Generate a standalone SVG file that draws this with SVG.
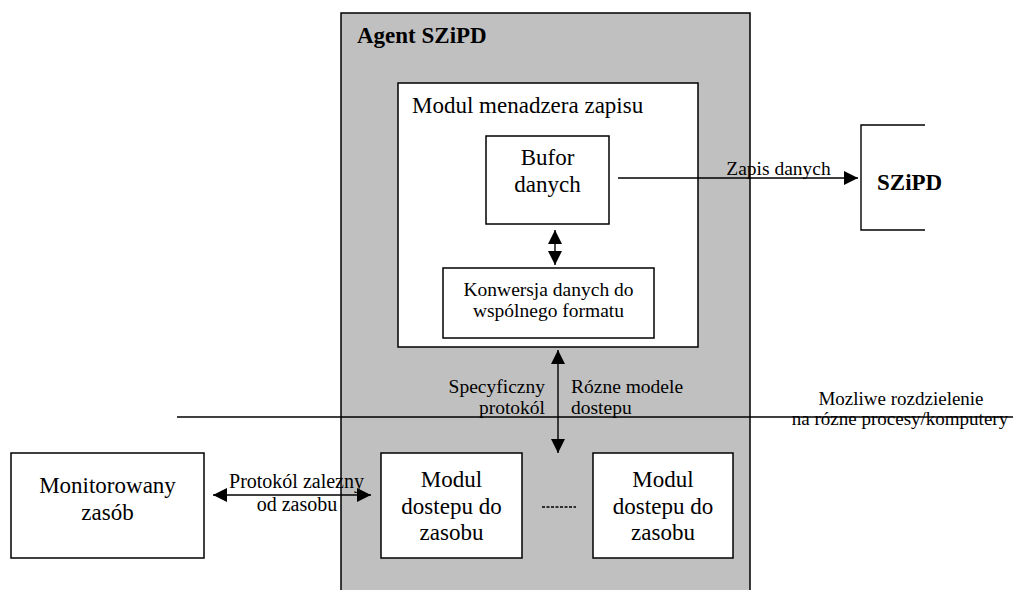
<svg xmlns="http://www.w3.org/2000/svg" width="1013" height="590" viewBox="0 0 1013 590">
  <style>
    .box { fill: #ffffff; stroke: #000000; stroke-width: 1.5; }
    .agent { fill: #c0c0c0; stroke: #000000; stroke-width: 1.5; }
    .line { fill: none; stroke: #000000; stroke-width: 1.4; }
    text { font-family: 'Liberation Serif', 'DejaVu Serif', 'Times New Roman', serif; fill: #000000; }
    .big { font-size: 23px; text-anchor: middle; }
    .mid { font-size: 19.5px; }
    .bold { font-weight: bold; }
  </style>
  <defs>
    <marker id="arrow" viewBox="0 0 14 14" refX="14" refY="7" markerWidth="14" markerHeight="14" markerUnits="userSpaceOnUse" orient="auto-start-reverse">
      <path d="M0,0 L14,7 L0,14 Z" fill="#000000"/>
    </marker>
  </defs>

  <!-- Agent container -->
  <g id="agent">
    <rect class="agent" x="341" y="13" width="409" height="600"/>
    <text class="bold" x="357" y="43" font-size="23">Agent SZiPD</text>
  </g>

  <!-- Write manager module -->
  <g id="modul-menadzera">
    <rect class="box" x="398" y="83" width="300" height="264"/>
    <text x="412" y="113" font-size="23">Modul menadzera zapisu</text>
  </g>

  <g id="bufor">
    <rect class="box" x="486" y="136" width="123" height="88"/>
    <text class="big" x="547.5" y="165">Bufor</text>
    <text class="big" x="547.5" y="192">danych</text>
  </g>

  <g id="konwersja">
    <rect class="box" x="443" y="268" width="211" height="70"/>
    <text class="mid" x="548.5" y="296" text-anchor="middle">Konwersja danych do</text>
    <text class="mid" x="548.5" y="317" text-anchor="middle">wspólnego formatu</text>
  </g>

  <!-- Storage system (open on the right) -->
  <g id="szipd">
    <path class="line" d="M925,125 H861 V230 H925" stroke-width="1.5"/>
    <text class="bold" x="877" y="190" font-size="23">SZiPD</text>
  </g>

  <g id="monitorowany">
    <rect class="box" x="11" y="453" width="193" height="105"/>
    <text class="big" x="107.5" y="493">Monitorowany</text>
    <text class="big" x="107.5" y="520">zasób</text>
  </g>

  <g id="modul-dostepu-1">
    <rect class="box" x="381" y="453" width="141" height="105"/>
    <text class="big" x="451.5" y="487">Modul</text>
    <text class="big" x="451.5" y="514">dostepu do</text>
    <text class="big" x="451.5" y="540">zasobu</text>
  </g>

  <g id="modul-dostepu-2">
    <rect class="box" x="593" y="453" width="140" height="105"/>
    <text class="big" x="663" y="487">Modul</text>
    <text class="big" x="663" y="514">dostepu do</text>
    <text class="big" x="663" y="540">zasobu</text>
  </g>

  <!-- Connectors and separators -->
  <g id="connectors">
    <line class="line" x1="618" y1="178" x2="858" y2="178" marker-end="url(#arrow)"/>
    <text class="mid" x="778.5" y="175" text-anchor="middle">Zapis danych</text>

    <line class="line" x1="555" y1="230" x2="555" y2="265" marker-start="url(#arrow)" marker-end="url(#arrow)"/>

    <line class="line" x1="558" y1="350" x2="558" y2="453" marker-start="url(#arrow)" marker-end="url(#arrow)"/>
    <text class="mid" x="545" y="393" text-anchor="end">Specyficzny</text>
    <text class="mid" x="545" y="414" text-anchor="end">protokól</text>
    <text class="mid" x="571" y="393">Rózne modele</text>
    <text class="mid" x="571" y="414">dostepu</text>

    <line class="line" x1="177" y1="417" x2="1013" y2="417"/>
    <text x="901" y="405" font-size="19" text-anchor="middle">Mozliwe rozdzielenie</text>
    <text x="900" y="425" font-size="19" text-anchor="middle">na rózne procesy/komputery</text>

    <line class="line" x1="213" y1="495" x2="371" y2="495" marker-start="url(#arrow)" marker-end="url(#arrow)"/>
    <text x="296.5" y="488" font-size="20" text-anchor="middle">Protokól zalezny</text>
    <text x="297" y="511" font-size="20" text-anchor="middle">od zasobu</text>

    <line class="line" x1="542" y1="507" x2="576" y2="507" stroke-dasharray="3,1.5"/>
  </g>
</svg>
